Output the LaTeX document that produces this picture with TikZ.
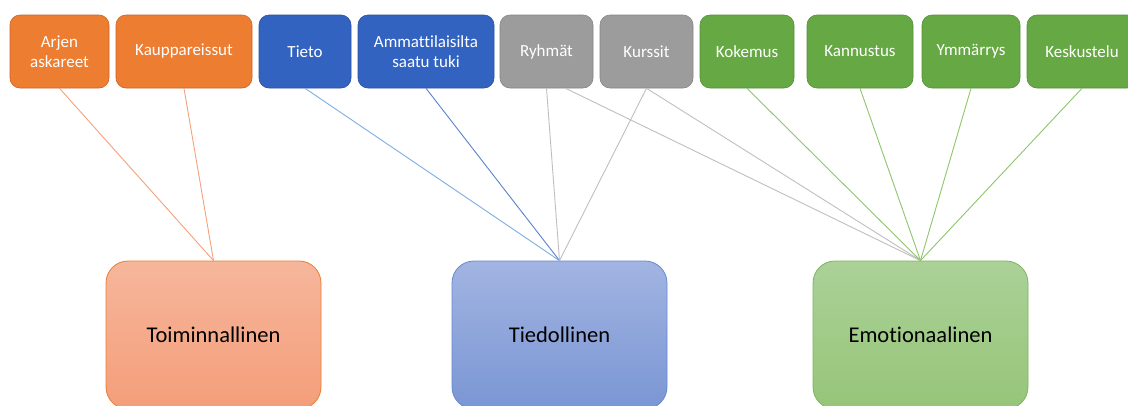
\documentclass[tikz,border=0pt]{standalone}
\usepackage{fontspec}
\setmainfont{Carlito}[Ligatures=NoCommon]
\usetikzlibrary{positioning}
\definecolor{orng}{HTML}{ED7D31}
\definecolor{orngdk}{HTML}{C8642A}
\definecolor{blu}{HTML}{3263C0}
\definecolor{bludk}{HTML}{2A50A0}
\definecolor{gry}{HTML}{9C9C9C}
\definecolor{grydk}{HTML}{858585}
\definecolor{grn}{HTML}{66A843}
\definecolor{grndk}{HTML}{55903A}
\definecolor{orngline}{HTML}{F4A27C}
\definecolor{bluline}{HTML}{7EAEE2}
\definecolor{grnline}{HTML}{8EC66C}
\tikzset{
  leaf/.style={rounded corners=10pt, draw=#1dk, fill=#1, text=white, line width=0.6pt,
    minimum height=73pt, inner sep=2pt, align=center, font=\fontsize{17}{19.5}\selectfont},
  root/.style={rounded corners=22pt, line width=0.8pt, minimum width=215pt,
    minimum height=148pt, font=\fontsize{22.5}{26}\selectfont},
  link/.style={line width=0.9pt, draw=#1},
}
\begin{document}
\begin{tikzpicture}[x=1pt, y=-1pt]
  \clip (0,0) rectangle (1128,405);
  \fill[white] (0,0) rectangle (1128,405);
  % top row: sources of support
  \node[leaf=orng, minimum width=99pt]  (arjen)  at (59.5,51.5)  {Arjen\\askareet};
  \node[leaf=orng, minimum width=136pt] (kaupp)  at (184,51.5)   {Kauppareissut};
  \node[leaf=blu,  minimum width=92pt]  (tieto)  at (305,51.5)   {Tieto};
  \node[leaf=blu,  minimum width=136pt] (ammat)  at (426,51.5)   {Ammattilaisilta\\saatu tuki};
  \node[leaf=gry,  minimum width=93pt]  (ryhmat) at (546.5,51.5) {Ryhmät};
  \node[leaf=gry,  minimum width=93pt]  (kurssit) at (646.5,51.5) {Kurssit};
  \node[leaf=grn,  minimum width=94pt]  (kokemus) at (747,51.5)  {Kokemus};
  \node[leaf=grn,  minimum width=106pt] (kannus) at (860,51.5)   {Kannustus};
  \node[leaf=grn,  minimum width=98pt]  (ymmarr) at (971,51.5)   {Ymmärrys};
  \node[leaf=grn,  minimum width=110pt] (keskus) at (1082,51.5)  {Keskustelu};
  % bottom row: kinds of support
  \node[root, draw=orng, top color={rgb,255:red,246;green,182;blue,155}, bottom color={rgb,255:red,244;green,158;blue,122}] (toim) at (213.5,335) {Toiminnallinen};
  \node[root, draw=blu!75, top color={rgb,255:red,162;green,180;blue,226}, bottom color={rgb,255:red,122;green,150;blue,212}] (tied) at (559.5,335) {Tiedollinen};
  \node[root, draw=grn!85, top color={rgb,255:red,171;green,209;blue,152}, bottom color={rgb,255:red,150;green,197;blue,120}] (emot) at (920.5,335) {Emotionaalinen};
  % links
  \draw[link=orngline] (arjen.south) -- (toim.north);
  \draw[link=orngline] (kaupp.south) -- (toim.north);
  \draw[link=bluline] (tieto.south) -- (tied.north);
  \draw[link=blu!80] (ammat.south) -- (tied.north);
  \draw[link=gray!50] (ryhmat.south) -- (tied.north);
  \draw[link=gray!50] (kurssit.south) -- (tied.north);
  \draw[link=gray!50] ([xshift=19pt]ryhmat.south) -- (emot.north);
  \draw[link=gray!50] (kurssit.south) -- (emot.north);
  \foreach \src in {kokemus, kannus, ymmarr, keskus}
    \draw[link=grnline] (\src.south) -- (emot.north);
\end{tikzpicture}
\end{document}
